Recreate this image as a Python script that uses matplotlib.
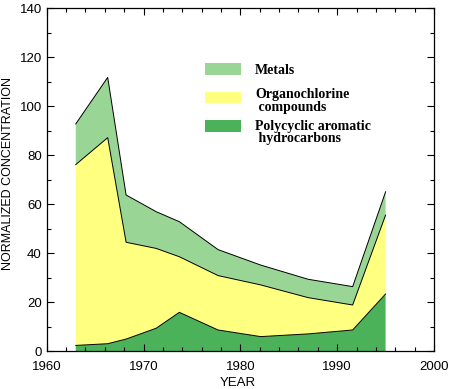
import matplotlib
matplotlib.use("Agg")
import matplotlib.pyplot as plt
from matplotlib.patches import Rectangle
from matplotlib.ticker import MultipleLocator

# values
years = [1963.0, 1966.3, 1968.2, 1971.3, 1973.7, 1977.7, 1982.1, 1987.0, 1991.6, 1995.0]
pah = [2.4, 3.1, 5.0, 9.4, 15.9, 8.7, 6.0, 7.1, 8.7, 23.4]
organochlorine = [73.8, 84.1, 39.5, 32.6, 22.7, 22.2, 21.1, 14.8, 10.2, 32.2]
metals = [16.6, 24.6, 19.3, 15.0, 14.3, 10.6, 8.1, 7.5, 7.5, 9.5]

labels = ["Metals", "Organochlorine\n compounds", "Polycyclic aromatic\n hydrocarbons"]
colors = {"metals": "#99d595", "oc": "#ffff80", "pah": "#4cb25a"}

W, H = 449, 389
fig = plt.figure(figsize=(W / 100, H / 100), dpi=100)
ax = fig.add_axes([46.7 / W, 1 - 351.3 / H, (434 - 46.7) / W, (351.3 - 8.3) / H])

ax.stackplot(years, pah, organochlorine, metals,
             colors=[colors["pah"], colors["oc"], colors["metals"]], linewidth=0)

top_pah = pah
top_oc = [a + b for a, b in zip(pah, organochlorine)]
top_m = [a + b for a, b in zip(top_oc, metals)]
for top in (top_pah, top_oc, top_m):
    ax.plot(years, top, color="black", lw=0.7)

ax.set_xlim(1960, 2000)
ax.set_ylim(0, 140)
ax.xaxis.set_major_locator(MultipleLocator(10))
ax.xaxis.set_minor_locator(MultipleLocator(2))
ax.yaxis.set_major_locator(MultipleLocator(20))
ax.yaxis.set_minor_locator(MultipleLocator(10))
ax.tick_params(which="both", direction="in", top=True, right=True,
               labelsize=9.5, width=0.8)
ax.tick_params(which="major", length=5)
ax.tick_params(which="minor", length=3)
ax.tick_params(axis="x", which="major", pad=7)
for lab in ax.get_xticklabels() + ax.get_yticklabels():
    lab.set_family("Liberation Sans")
for s in ax.spines.values():
    s.set_linewidth(0.9)

ax.set_xlabel("YEAR", family="Liberation Sans", fontsize=9.5)
ax.set_ylabel("NORMALIZED CONCENTRATION", family="Liberation Sans", fontsize=9)
ax.xaxis.set_label_coords(0.4926, -0.074)
ax.yaxis.set_label_coords(-0.084, 0.517)

# hand-placed legend
boxes = [(63.3, colors["metals"]), (91.7, colors["oc"]), (120, colors["pah"])]
text_y = [70, 101, 132.5]
for (ytop, c), lab, ty in zip(boxes, labels, text_y):
    fig.add_artist(Rectangle((205 / W, 1 - (ytop + 11.7) / H), 36 / W, 11.7 / H,
                             transform=fig.transFigure, facecolor=c, edgecolor="none"))
    fig.text(255 / W, 1 - ty / H, lab, family="Liberation Serif", weight="bold",
             fontsize=10, va="center", ha="left", linespacing=0.95)

fig.savefig("out.png", dpi=100)
